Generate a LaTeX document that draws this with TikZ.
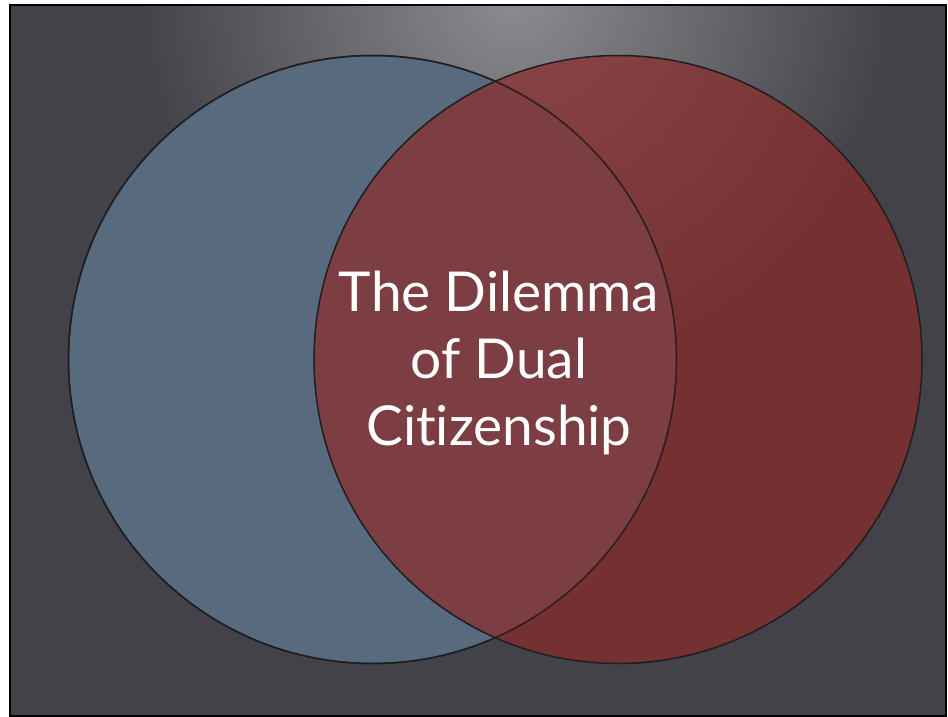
\documentclass[tikz,border=0pt]{standalone}
\usepackage{fontspec}
\setmainfont[Ligatures=NoCommon]{Lato}
\definecolor{bgdark}{RGB}{66,66,72}
\definecolor{bglight}{RGB}{140,140,145}
\definecolor{bluefill}{RGB}{88,107,126}
\definecolor{redfill}{RGB}{140,42,42}
\definecolor{edge}{RGB}{30,30,32}
\tikzset{
  venn/.style={draw=edge, line width=1.5pt},
  title/.style={text=white, font=\fontsize{55}{67}\selectfont, align=center}
}
\begin{document}
\begin{tikzpicture}[x=1pt,y=-1pt]
\useasboundingbox (0,0) rectangle (948,717);
\fill[white] (0,0) rectangle (948,717);
\begin{scope}
  \clip (10,5) rectangle (946,716);
  \fill[bgdark] (10,5) rectangle (946,716);
  \shade[inner color=bglight, outer color=bgdark] (515,-10) circle (380);
\end{scope}
\draw[black, line width=1.2pt] (10,5) rectangle (946,716);
\node[venn, circle, fill=bluefill, minimum size=608pt, inner sep=0pt] (blue) at (372.5,359.5) {};
\node[venn, circle, fill=redfill, fill opacity=0.7, draw opacity=1, minimum size=608pt, inner sep=0pt] (red) at (618,359.5) {};
\draw[edge, line width=1.5pt, draw opacity=0.8] (blue.center) circle (304);
\node[title] (t) at (499,363) {The Dilemma\\of Dual\\Citizenship};
\end{tikzpicture}
\end{document}
